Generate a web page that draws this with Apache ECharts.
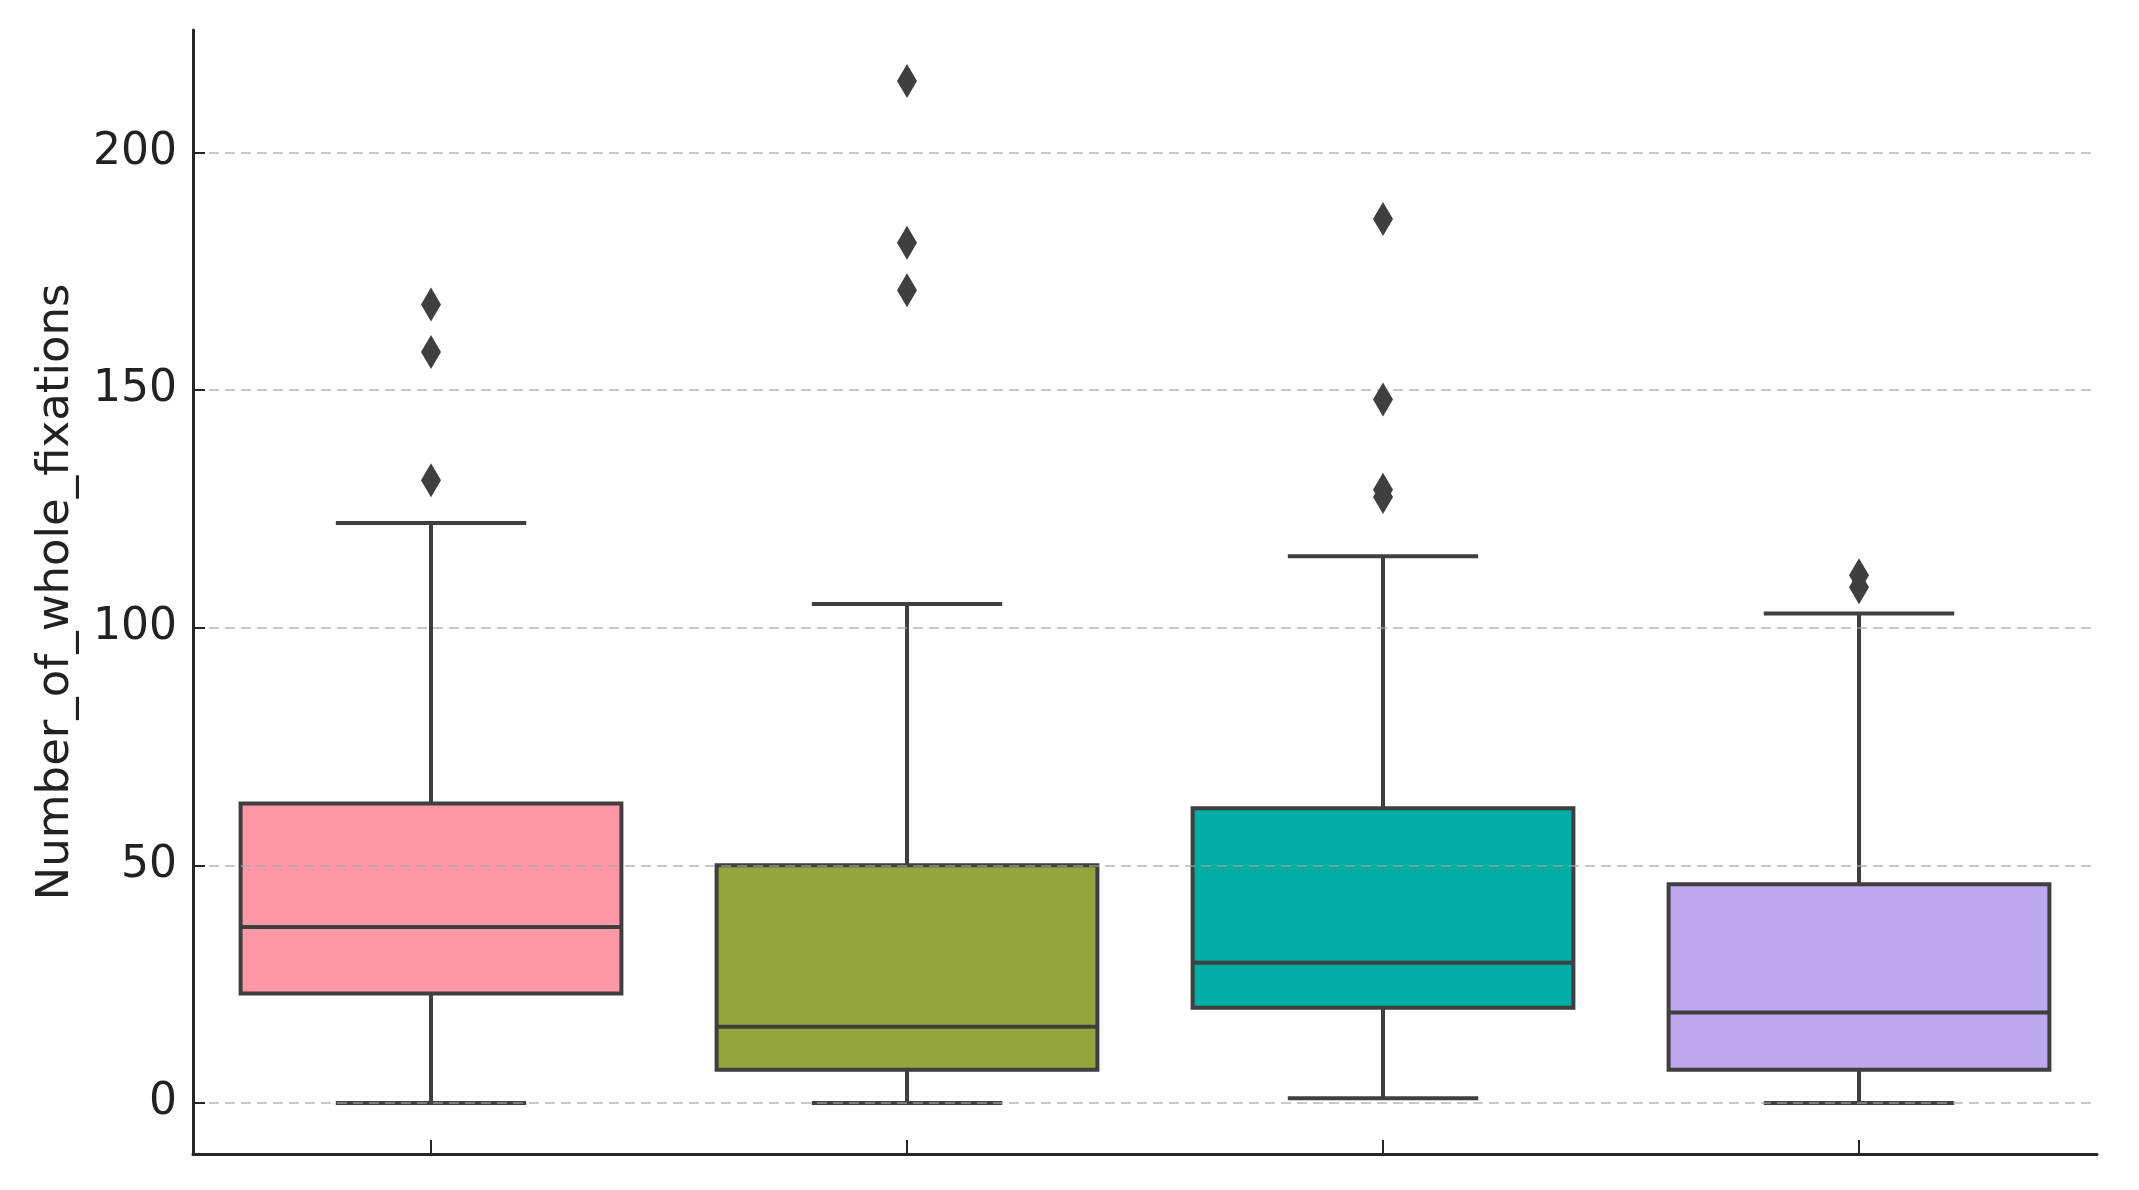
<!DOCTYPE html>
<html>
<head>
<meta charset="utf-8">
<script src="https://cdn.jsdelivr.net/npm/echarts@6/dist/echarts.min.js"></script>
<style>
  html, body { margin: 0; padding: 0; background: #ffffff; }
  #chart { width: 2139px; height: 1190px; }
</style>
</head>
<body>
<div id="chart"></div>
<script>
// ---- data ----
const categories = ['Group 1', 'Group 2', 'Group 3', 'Group 4'];
const whiskerLow  = [0, 0, 1, 0];
const q1Values    = [23, 7, 20, 7];
const medians     = [37, 16, 29.5, 19];
const q3Values    = [63, 50, 62, 46];
const whiskerHigh = [122, 105, 115, 103];
const outliers1 = [131, 158, 168];
const outliers2 = [171, 181, 215];
const outliers3 = [127.5, 129, 148, 186];
const outliers4 = [108.5, 111];
const yTicks = [0, 50, 100, 150, 200];
const yTitle = 'Number_of_whole_fixations';

const boxColors = ['#FF97A7', '#96A43D', '#00ADA5', '#BDA8EF'];
const lineColor = '#3F3F3F';

const boxData = categories.map((c, i) => [i, whiskerLow[i], q1Values[i], medians[i], q3Values[i], whiskerHigh[i]]);
const outlierData = [];
[outliers1, outliers2, outliers3, outliers4].forEach((arr, i) => arr.forEach(v => outlierData.push([i, v])));

const chart = echarts.init(document.getElementById('chart'), null, { renderer: 'canvas' });

const option = {
  animation: false,
  backgroundColor: '#ffffff',
  grid: { left: 193, right: 42, top: 30, bottom: 36, containLabel: false },
  xAxis: {
    type: 'category',
    data: categories,
    boundaryGap: true,
    axisLine: { show: true, onZero: false, lineStyle: { color: '#262626', width: 3 } },
    axisTick: { show: true, inside: true, length: 14, alignWithLabel: true, lineStyle: { color: '#262626', width: 2 } },
    axisLabel: { show: false },
    splitLine: { show: false }
  },
  yAxis: {
    type: 'value',
    min: -10.75,
    max: 225.75,
    z: 3,
    name: yTitle,
    nameLocation: 'middle',
    nameGap: 114,
    nameTextStyle: { fontFamily: 'DejaVu Sans', fontSize: 45, color: '#222222' },
    axisLine: { show: true, onZero: false, lineStyle: { color: '#262626', width: 3 } },
    axisTick: { show: true, inside: true, length: 12, customValues: yTicks, lineStyle: { color: '#262626', width: 2 } },
    axisLabel: { show: true, customValues: yTicks, margin: 16, fontFamily: 'DejaVu Sans', fontSize: 44, color: '#222222' },
    splitLine: { show: true, lineStyle: { color: 'rgba(165,165,165,0.6)', width: 2, type: [10, 6] } }
  },
  series: [
    {
      type: 'custom',
      z: 2,
      data: boxData,
      encode: { x: 0, y: [1, 2, 3, 4, 5] },
      renderItem: function (params, api) {
        const i = api.value(0);
        const pLow = api.coord([i, api.value(1)]);
        const pQ1 = api.coord([i, api.value(2)]);
        const pMed = api.coord([i, api.value(3)]);
        const pQ3 = api.coord([i, api.value(4)]);
        const pHigh = api.coord([i, api.value(5)]);
        const band = api.size([1, 0])[0];
        const bw = band * 0.8;
        const cw = band * 0.4;
        const x = pLow[0];
        const ls = { stroke: lineColor, lineWidth: 4 };
        return {
          type: 'group',
          children: [
            { type: 'line', shape: { x1: x, y1: pQ3[1], x2: x, y2: pHigh[1] }, style: ls },
            { type: 'line', shape: { x1: x, y1: pQ1[1], x2: x, y2: pLow[1] }, style: ls },
            { type: 'line', shape: { x1: x - cw / 2, y1: pHigh[1], x2: x + cw / 2, y2: pHigh[1] }, style: ls },
            { type: 'line', shape: { x1: x - cw / 2, y1: pLow[1], x2: x + cw / 2, y2: pLow[1] }, style: ls },
            { type: 'rect', shape: { x: x - bw / 2, y: pQ3[1], width: bw, height: pQ1[1] - pQ3[1] },
              style: { fill: boxColors[i], stroke: lineColor, lineWidth: 4 } },
            { type: 'line', shape: { x1: x - bw / 2, y1: pMed[1], x2: x + bw / 2, y2: pMed[1] }, style: ls }
          ]
        };
      }
    },
    {
      type: 'scatter',
      z: 4,
      data: outlierData,
      symbol: 'diamond',
      symbolSize: [20, 34],
      itemStyle: { color: lineColor, opacity: 1 }
    }
  ]
};
chart.setOption(option);
</script>
</body>
</html>
